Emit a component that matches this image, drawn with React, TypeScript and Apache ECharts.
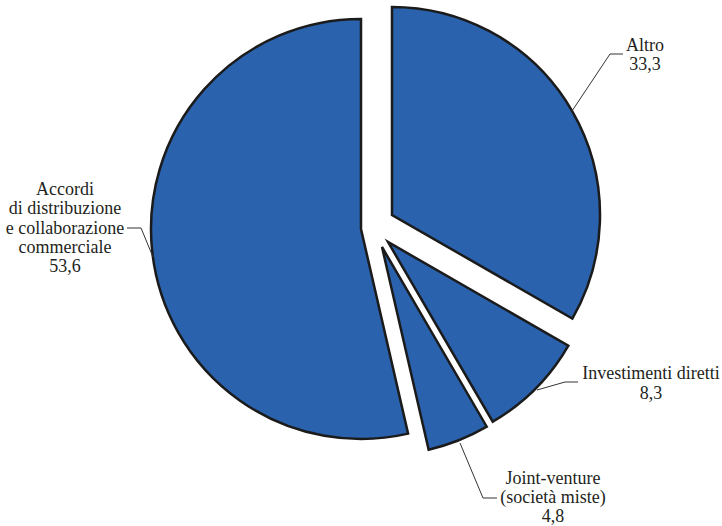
import React, { useEffect, useRef } from "react";
import * as echarts from "echarts";

const categories = [
  "Altro",
  "Investimenti diretti",
  "Joint-venture\n(società miste)",
  "Accordi\ndi distribuzione\ne collaborazione\ncommerciale",
];
const values = [33.3, 8.3, 4.8, 53.6];

// per-slice exploded centres (px) and radius
const sliceCenters: [number, number][] = [
  [392, 215],
  [388, 242],
  [382, 247],
  [361, 229],
];
const sliceRadius = [208, 208, 208, 210];
const labelPos: [number, number][] = [
  [645, 54.5],
  [651, 383],
  [553, 497],
  [65, 227.5],
];
const leaderLines: [number, number][][] = [
  [[572, 111], [610, 54], [623, 54]],
  [[537, 390], [565, 382], [578, 382]],
  [[460, 443], [483, 498], [497, 498]],
  [[153, 257], [141, 228], [127, 228]],
];

const FILL = "#2a62ad";
const BORDER = "#1b1b1b";
const TEXT = "#231f20";
const FONT = "18px 'Liberation Serif'";
const LH = 19.3;

const fmt = (v: number) => v.toFixed(1).replace(".", ",");

export default function App() {
  const ref = useRef<HTMLDivElement>(null);
  useEffect(() => {
    if (!ref.current) return;
    const chart = echarts.init(ref.current, undefined, { renderer: "svg" });
    const series = values.map((_, k) => ({
      type: "pie",
      silent: true,
      center: sliceCenters[k],
      radius: sliceRadius[k],
      startAngle: 90,
      clockwise: true,
      z: k === 3 ? 1 : 2,
      label: { show: false },
      labelLine: { show: false },
      data: values.map((v, i) => ({
        name: categories[i].replace(/\n/g, " "),
        value: v,
        itemStyle:
          i === k
            ? { color: FILL, borderColor: BORDER, borderWidth: 2.5, borderJoin: "miter" }
            : { color: "rgba(0,0,0,0)", borderWidth: 0 },
      })),
    }));
    const lines = leaderLines.map((pts) => ({
      type: "polyline",
      shape: { points: pts },
      style: { stroke: "#333333", lineWidth: 1, fill: null },
      z: 10,
    }));
    const texts: any[] = [];
    categories.forEach((c, i) => {
      const rows = (c + "\n" + fmt(values[i])).split("\n");
      const n = rows.length;
      rows.forEach((row, j) => {
        texts.push({
          type: "text",
          x: labelPos[i][0],
          y: labelPos[i][1] + (j - (n - 1) / 2) * LH,
          z: 10,
          style: {
            text: row,
            font: FONT,
            fill: TEXT,
            align: "center",
            verticalAlign: "middle",
          },
        });
      });
    });
    chart.setOption({
      animation: false,
      backgroundColor: "#ffffff",
      graphic: [...lines, ...texts],
      series,
    });
    return () => chart.dispose();
  }, []);
  return (
    <div
      ref={ref}
      style={{ position: "fixed", left: 0, top: 0, width: 722, height: 526 }}
    />
  );
}
